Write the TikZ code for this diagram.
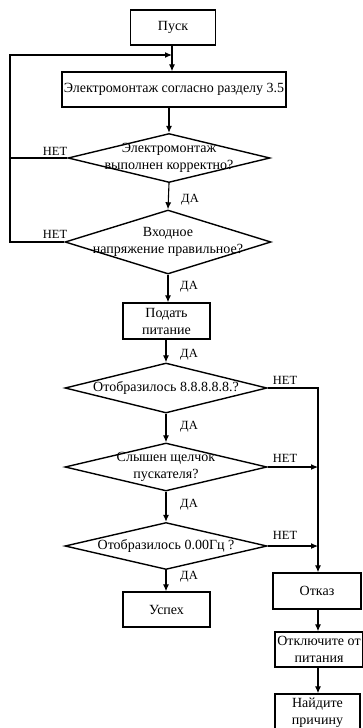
\documentclass[tikz,border=0pt]{standalone}
\usepackage{fontspec}
\setmainfont{Liberation Serif}
\usetikzlibrary{shapes.geometric,arrows.meta}
\begin{document}
\begin{tikzpicture}[x=1pt,y=-1pt,
  every node/.style={font=\fontsize{14}{17}\selectfont},
  box/.style={draw,line width=1.4pt,inner sep=0pt,align=center},
  dec/.style={draw,diamond,line width=1.4pt,inner sep=0pt},
  lab/.style={inner sep=0pt,font=\fontsize{12.5}{14}\selectfont},
  conn/.style={line width=1.1pt},
  arr/.style={conn,-{Latex[length=7pt,width=6pt]}}]
\useasboundingbox (0,0) rectangle (363,728);
\node[box,minimum width=85pt,minimum height=35pt] (start) at (173,27.5) {Пуск};
\node[box,minimum width=224pt,minimum height=35pt] (wire) at (174,89.5) {Электромонтаж согласно разделу 3.5};
\node[dec,minimum width=202pt,minimum height=49pt,label={[align=center]center:Электромонтаж\\выполнен корректно?}] (d1) at (169,158) {};
\node[dec,minimum width=206pt,minimum height=64pt,label={[align=center]center:Входное\\напряжение правильное?}] (d2) at (168,242) {};
\node[box,minimum width=87pt,minimum height=36pt] (power) at (166.5,321) {Подать\\питание};
\node[dec,minimum width=202pt,minimum height=50pt,label={center:Отобразилось 8.8.8.8.8.?}] (d3) at (166,388) {};
\node[dec,minimum width=202pt,minimum height=48pt,label={[align=center]center:Слышен щелчок\\пускателя?}] (d4) at (166,467) {};
\node[dec,minimum width=202pt,minimum height=47pt,label={center:Отобразилось 0.00Гц ?}] (d5) at (166,546) {};
\node[box,minimum width=87pt,minimum height=35pt] (ok) at (166.5,609.5) {Успех};
\node[box,minimum width=88pt,minimum height=36pt] (fail) at (317,591) {Отказ};
\node[box,minimum width=88pt,minimum height=35pt] (off) at (319,649.5) {Отключите от\\питания};
\node[box,minimum width=85pt,minimum height=38pt] (find) at (317.5,713) {Найдите\\причину};
\coordinate (top) at (172,55);
\coordinate (lt) at (10,55);
\coordinate (l1) at (10,158);
\coordinate (l2) at (10,242);
\coordinate (r3) at (318,388);
\coordinate (r4) at (318,467);
\coordinate (r5) at (318,546);
% main chain
\draw[arr] (start.south -| top) -- (wire.north -| top);
\draw[arr] (wire.south -| d1.north) -- (d1.north);
\draw[arr] (d1.south) -- (d2.north);
\draw[arr] (d2.south) -- (power.north -| d2.south);
\draw[arr] (power.south -| d3.north) -- (d3.north);
\draw[arr] (d3.south) -- (d4.north);
\draw[arr] (d4.south) -- (d5.north);
\draw[arr] (d5.south) -- (ok.north -| d5.south);
% left loop
\draw[conn] (d1.west) -- (l1);
\draw[arr] (d2.west) -- (l2) -- (lt) -- (top);
% right side
\draw[arr] (d3.east) -- (r3) -- (fail.north -| r3);
\draw[arr] (d4.east) -- (r4);
\draw[arr] (d5.east) -- (r5);
\draw[arr] (fail.south -| r3) -- (off.north -| r3);
\draw[arr] (off.south -| r3) -- (find.north -| r3);
% labels
\node[lab] (n1) at (55,151) {НЕТ};
\node[lab] (n2) at (55,234) {НЕТ};
\node[lab] (y1) at (190,200) {ДА};
\node[lab] (y2) at (189,287) {ДА};
\node[lab] (y3) at (189,355) {ДА};
\node[lab] (n3) at (285,380) {НЕТ};
\node[lab] (y4) at (189,427) {ДА};
\node[lab] (n4) at (285,458) {НЕТ};
\node[lab] (y5) at (189,505) {ДА};
\node[lab] (n5) at (285,535) {НЕТ};
\node[lab] (y6) at (189,577) {ДА};
\end{tikzpicture}
\end{document}
